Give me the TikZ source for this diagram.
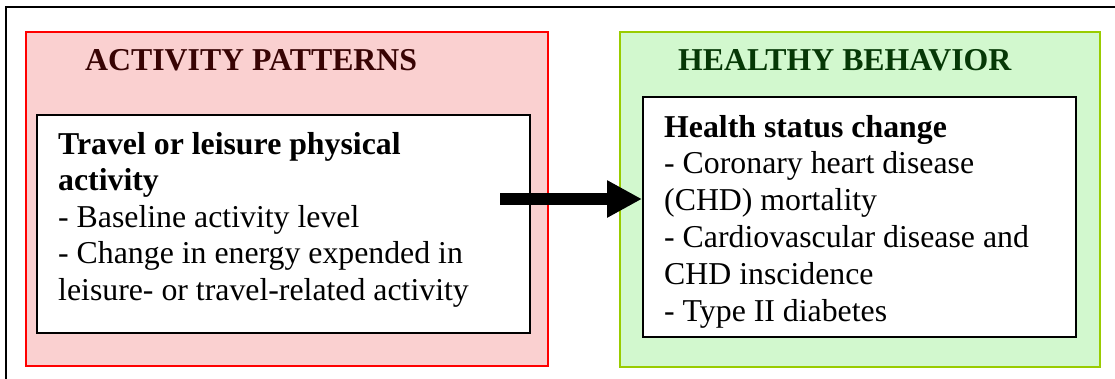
\documentclass[tikz,border=0pt]{standalone}
\usepackage{fontspec}
\setmainfont{Liberation Serif}
\usetikzlibrary{arrows.meta}
\definecolor{redfill}{HTML}{FAD0D0}
\definecolor{greenfill}{HTML}{D2F8CE}
\definecolor{redline}{HTML}{FF0000}
\definecolor{greenline}{HTML}{99CC00}
\definecolor{redtitle}{HTML}{380404}
\definecolor{greentitle}{HTML}{063806}
\tikzset{
  outerbox/.style={draw, line width=2.2pt, inner sep=0pt, minimum width=#1},
  innerbox/.style={draw=black, fill=white, line width=2pt, inner sep=0pt},
  txt/.style={anchor=base west, inner sep=0pt, font=\fontsize{31.8}{36.7}\selectfont},
  btxt/.style={txt, font=\fontsize{31.8}{36.7}\selectfont\bfseries},
}
\begin{document}
\begin{tikzpicture}[x=1pt,y=-1pt]
\useasboundingbox (0,0) rectangle (1115,378);
\draw[line width=2.2pt] (1120,7) -- (6,7) -- (6,385);
% left group
\node[outerbox=522pt, draw=redline, fill=redfill, minimum height=334pt] (redbox) at (287,199) {};
\node[innerbox, minimum width=493pt, minimum height=218pt] (inL) at (283.5,224) {};
\node[btxt, text=redtitle] (tL) at (85,70) {ACTIVITY PATTERNS};
\node[btxt] (l1) at (58,154) {Travel or leisure physical};
\node[btxt] (l2) at (58,190.5) {activity};
\node[txt] (l3) at (58,227) {- Baseline activity level};
\node[txt] (l4) at (58,263.5) {- Change in energy expended in};
\node[txt] (l5) at (58,300) {leisure- or travel-related activity};
% right group
\node[outerbox=480pt, draw=greenline, fill=greenfill, minimum height=335pt] (greenbox) at (860,199.5) {};
\node[innerbox, minimum width=433pt, minimum height=240pt] (inR) at (859.5,217) {};
\node[btxt, text=greentitle] (tR) at (678,70) {HEALTHY BEHAVIOR};
\node[btxt] (r1) at (664,137) {Health status change};
\node[txt] (r2) at (664,173.8) {- Coronary heart disease};
\node[txt] (r3) at (664,210.6) {(CHD) mortality};
\node[txt] (r4) at (664,247.4) {- Cardiovascular disease and};
\node[txt] (r5) at (664,284.2) {CHD inscidence};
\node[txt] (r6) at (664,321) {- Type II diabetes};
% arrow
\coordinate (astart) at (500,199);
\draw[line width=12pt, -{Triangle[length=35pt, width=35pt]}] (astart) -- (astart -| inR.west);
\end{tikzpicture}
\end{document}
